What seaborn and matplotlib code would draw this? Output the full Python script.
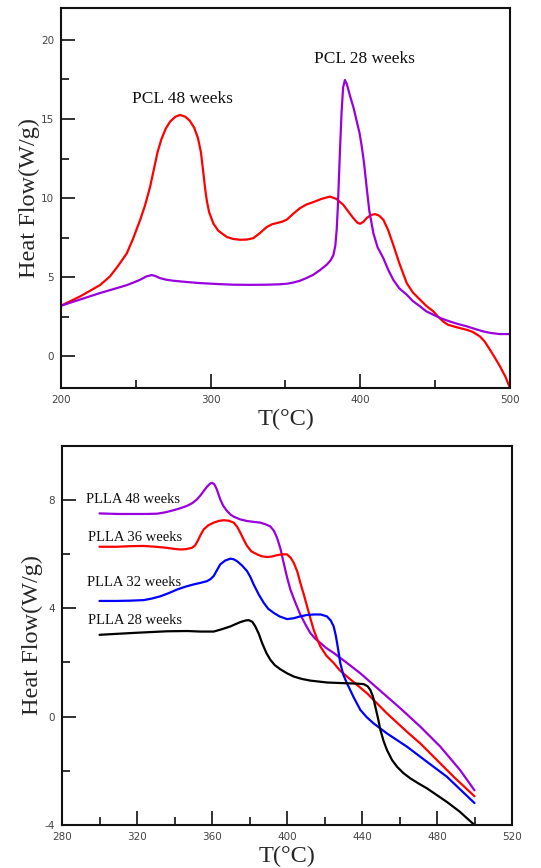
import numpy as np
import pandas as pd
import matplotlib
matplotlib.use("Agg")
import matplotlib.pyplot as plt
from matplotlib.ticker import MultipleLocator, FixedLocator
import seaborn as sns

# ---------------- data: top panel (PCL) ----------------
pcl48_t = [200, 213, 226, 232.7, 238, 243.9, 248, 252.8, 256, 259.5, 262, 264.5, 267, 270, 273, 276.5,
           279.5, 283, 286, 289, 291.5, 293.5, 295, 296.3, 297.5, 299, 301.8, 305, 310.7, 315, 319.6,
           324, 328.5, 333, 337.4, 341, 344, 348, 351, 355, 359.7, 364, 368.6, 374, 379.7, 384,
           388.6, 392, 395.3, 398, 399.8, 402, 404.2, 407, 409.8, 412.5, 415.4, 418.5, 422, 426,
           431, 435, 439.9, 444, 448.8, 452, 455.4, 458.5, 462.1, 466, 471, 475, 479.9, 483, 486.6,
           490, 493.3, 497, 500]
pcl48_v = [3.2, 3.8, 4.5, 5.05, 5.7, 6.5, 7.4, 8.6, 9.5, 10.7, 11.8, 12.9, 13.7, 14.4, 14.85, 15.15,
           15.26, 15.15, 14.9, 14.45, 13.8, 12.9, 11.7, 10.6, 9.8, 9.1, 8.4, 7.95, 7.55, 7.42, 7.37,
           7.38, 7.47, 7.8, 8.17, 8.35, 8.42, 8.52, 8.65, 9.0, 9.37, 9.6, 9.75, 9.95, 10.1, 9.95,
           9.58, 9.15, 8.74, 8.45, 8.38, 8.5, 8.74, 8.93, 8.99, 8.9, 8.63, 8.0, 7.05, 5.9,
           4.63, 4.05, 3.58, 3.2, 2.84, 2.5, 2.2, 2.0, 1.9, 1.8, 1.68, 1.55, 1.26, 0.95, 0.42,
           -0.1, -0.63, -1.3, -2.0]

pcl28_t = [200, 213, 226, 235, 243.9, 248, 252.8, 257, 260.6, 263, 266, 270, 275, 284, 293, 305, 315,
           326, 337.4, 345, 350.8, 355, 359.7, 364, 368.6, 373, 377.5, 380, 382, 383.3, 384.2, 385,
           385.8, 386.6, 387.5, 388.5, 389.7, 391, 393, 395.5, 397.5, 399.5, 400.9, 402.5, 404.2,
           406, 408.7, 411.5, 415.4, 418.5, 422, 426, 431, 435, 439.9, 444, 448.8, 454, 460, 465,
           471, 476, 482, 487, 493, 500]
pcl28_v = [3.2, 3.6, 4.0, 4.25, 4.5, 4.65, 4.84, 5.05, 5.14, 5.08, 4.95, 4.85, 4.78, 4.7, 4.63, 4.57,
           4.53, 4.52, 4.53, 4.55, 4.59, 4.66, 4.78, 4.95, 5.16, 5.45, 5.79, 6.05, 6.4, 7.0, 8.0, 9.5,
           11.5, 13.5, 15.5, 17.0, 17.47, 17.2, 16.5, 15.7, 14.9, 14.1, 13.3, 12.2, 10.7,
           9.2, 7.79, 6.9, 6.2, 5.5, 4.84, 4.3, 3.9, 3.5, 3.16, 2.85, 2.63, 2.4, 2.2, 2.05,
           1.9, 1.75, 1.58, 1.48, 1.41, 1.41]

# ---------------- data: bottom panel (PLLA) ----------------
plla48_t = [300, 310, 318.2, 325, 330.7, 335, 339.6, 343, 346.7, 349.5, 352, 354, 355.6, 357.5, 359,
            360, 361.2, 362.5, 364.4, 366, 368, 370, 371.6, 375, 378.7, 382, 385.8, 388.5, 391.1,
            393, 394.7, 396.5, 398.2, 400, 401.8, 404.5, 407.1, 410, 412.4, 415, 417.8, 421, 424.9,
            432, 439.1, 446.2, 453.3, 460.4, 471.1, 481.8, 492.4, 500]
plla48_v = [7.5, 7.48, 7.48, 7.48, 7.49, 7.54, 7.62, 7.69, 7.78, 7.88, 8.02, 8.18, 8.33, 8.5, 8.6,
            8.63, 8.58, 8.4, 8.02, 7.78, 7.59, 7.45, 7.38, 7.28, 7.22, 7.19, 7.16, 7.1, 7.02,
            6.86, 6.6, 6.2, 5.68, 5.15, 4.69, 4.2, 3.77, 3.38, 3.09, 2.88, 2.72, 2.53, 2.35,
            1.98, 1.6, 1.17, 0.74, 0.31, -0.37, -1.11, -1.98, -2.72]

plla36_t = [300, 309.3, 316, 323.6, 330, 336, 340, 343, 346, 349.3, 351, 352.5, 354, 355.6, 358,
            360.9, 363.5, 366.2, 369, 371.6, 373.5, 375.1, 377, 378.7, 381, 384, 386.5, 389.3, 392,
            394.7, 397.5, 400, 402, 403.6, 405.5, 407.1, 409, 410.7, 412.5, 414.2, 416, 417.8, 421,
            424.9, 428, 432, 442.7, 453.3, 464, 471.1, 478.2, 488.9, 500]
plla36_v = [6.27, 6.27, 6.29, 6.3, 6.27, 6.23, 6.19, 6.17, 6.18, 6.23, 6.32, 6.5, 6.72, 6.91, 7.06,
            7.16, 7.22, 7.25, 7.23, 7.16, 7.0, 6.79, 6.52, 6.3, 6.1, 5.99, 5.92, 5.89, 5.91,
            5.96, 5.99, 5.99, 5.86, 5.68, 5.35, 4.94, 4.5, 4.07, 3.62, 3.21, 2.88, 2.59, 2.25,
            1.98, 1.72, 1.48, 0.86, 0.12, -0.56, -0.99, -1.48, -2.22, -2.94]

plla32_t = [300, 309.3, 316, 323.6, 328, 332.4, 337, 341.3, 346, 350.2, 354, 357.3, 359.3, 360.9,
            362.6, 364.4, 367, 369.8, 371.5, 373.3, 376, 378.7, 380.5, 382.2, 385, 387.6, 390, 392.9,
            396, 400, 403.5, 407.1, 410.5, 414.2, 418, 421.3, 423.3, 424.9, 426, 426.7, 427.6, 428.4,
            430, 432, 435.5, 439.1, 442.5, 446.2, 453.3, 464, 474.7, 485.3, 500]
plla32_v = [4.27, 4.27, 4.28, 4.3, 4.36, 4.44, 4.56, 4.69, 4.8, 4.88, 4.94, 5.0, 5.08, 5.19,
            5.4, 5.62, 5.76, 5.83, 5.81, 5.74, 5.58, 5.37, 5.15, 4.88, 4.5, 4.2, 3.98, 3.83,
            3.7, 3.6, 3.63, 3.7, 3.75, 3.77, 3.77, 3.7, 3.55, 3.33, 3.0, 2.72, 2.35, 1.98,
            1.55, 1.23, 0.72, 0.25, -0.02, -0.25, -0.62, -1.11, -1.67, -2.22, -3.19]

plla28_t = [300, 318.2, 336, 346.7, 353.8, 360.9, 365, 369.8, 375.1, 378, 379.6, 381.5, 383.1, 385,
            386.7, 389, 391.1, 393.5, 396.4, 400, 403.6, 408, 412.4, 421.3, 432, 437, 440.9, 443,
            444.4, 445.8, 447.1, 448.5, 449.8, 451.5, 453.3, 456, 458.7, 462, 465.8, 470, 474.7,
            485.3, 492, 500]
plla28_v = [3.02, 3.09, 3.15, 3.16, 3.14, 3.14, 3.22, 3.33, 3.49, 3.55, 3.56, 3.5, 3.33, 3.05,
            2.72, 2.35, 2.1, 1.9, 1.75, 1.6, 1.48, 1.39, 1.33, 1.26, 1.23, 1.22, 1.2, 1.12,
            0.99, 0.75, 0.37, -0.05, -0.49, -0.9, -1.23, -1.6, -1.85, -2.08, -2.28, -2.46, -2.65,
            -3.15, -3.5, -4.0]

top_labels = ["PCL 48 weeks", "PCL 28 weeks"]
bottom_labels = ["PLLA 48 weeks", "PLLA 36 weeks", "PLLA 32 weeks", "PLLA 28 weeks"]

top_xticks = [200, 300, 400, 500]
top_yticks = [0, 5, 10, 15, 20]
bot_xticks = [280, 320, 360, 400, 440, 480, 520]
bot_yticks = [-4, 0, 4, 8]

# ---------------- styling ----------------
sns.set_style("white")
plt.rcParams["font.family"] = ["DejaVu Sans"]
plt.rcParams["axes.unicode_minus"] = False
plt.rcParams["lines.solid_joinstyle"] = "round"
plt.rcParams["lines.solid_capstyle"] = "round"

PURPLE = "#9a00dd"
RED = "#ff0000"
BLUE = "#0000ff"
BLACK = "#000000"
SERIF = ["Liberation Serif", "DejaVu Serif"]

fig = plt.figure(figsize=(5.41, 8.68), dpi=100)
ax1 = fig.add_axes([61 / 541, 1 - 388 / 868, (510 - 61) / 541, (388 - 8.3) / 868])
ax2 = fig.add_axes([62 / 541, 1 - 825 / 868, (512 - 62) / 541, (825 - 445.7) / 868])

df_top = pd.concat([
    pd.DataFrame({"T": pcl48_t, "v": pcl48_v, "s": top_labels[0]}),
    pd.DataFrame({"T": pcl28_t, "v": pcl28_v, "s": top_labels[1]}),
])
sns.lineplot(data=df_top, x="T", y="v", hue="s", palette=[RED, PURPLE],
             linewidth=1.6, legend=False, ax=ax1, sort=False)

df_bot = pd.concat([
    pd.DataFrame({"T": plla48_t, "v": plla48_v, "s": bottom_labels[0]}),
    pd.DataFrame({"T": plla36_t, "v": plla36_v, "s": bottom_labels[1]}),
    pd.DataFrame({"T": plla32_t, "v": plla32_v, "s": bottom_labels[2]}),
    pd.DataFrame({"T": plla28_t, "v": plla28_v, "s": bottom_labels[3]}),
])
sns.lineplot(data=df_bot, x="T", y="v", hue="s", palette=[PURPLE, RED, BLUE, BLACK],
             linewidth=1.6, legend=False, ax=ax2, sort=False)

# top axes
ax1.set_xlim(200, 500)
ax1.set_ylim(-2, 22)
ax1.xaxis.set_major_locator(FixedLocator(top_xticks))
ax1.xaxis.set_minor_locator(MultipleLocator(50))
ax1.yaxis.set_major_locator(FixedLocator(top_yticks))
ax1.yaxis.set_minor_locator(MultipleLocator(2.5))

# bottom axes
ax2.set_xlim(280, 520)
ax2.set_ylim(-4, 10)
ax2.xaxis.set_major_locator(FixedLocator(bot_xticks))
ax2.xaxis.set_minor_locator(MultipleLocator(20))
ax2.yaxis.set_major_locator(FixedLocator(bot_yticks))
ax2.yaxis.set_minor_locator(MultipleLocator(2))

for ax, ylx in ((ax1, -0.046), (ax2, -0.043)):
    for sp in ax.spines.values():
        sp.set_visible(True)
        sp.set_color("#111111")
        sp.set_linewidth(1.5)
    ax.tick_params(axis="both", which="major", direction="in", length=10, width=1.3,
                   color="#222222", labelsize=7.5, labelcolor="#444444", pad=5,
                   bottom=True, left=True, top=False, right=False)
    ax.tick_params(axis="both", which="minor", direction="in", length=5.5, width=1.3,
                   color="#222222", bottom=True, left=True, top=False, right=False)
    ax.set_xlabel("T(°C)", fontsize=17.5, family=SERIF)
    ax.set_ylabel("Heat Flow(W/g)", fontsize=17.5, family=SERIF)
    ax.xaxis.set_label_coords(0.5, -0.054)
    ax.yaxis.set_label_coords(ylx, 0.5)
    ax.grid(False)

# text annotations
ax1.text(281.3, 16.27, top_labels[0], fontsize=12.5, family=SERIF, ha="center", va="center", color="#111111")
ax1.text(402.7, 18.8, top_labels[1], fontsize=12.5, family=SERIF, ha="center", va="center", color="#111111")

label_pos = [(317.7, 8.02), (318.8, 6.63), (318.2, 4.94), (318.8, 3.56)]
for lab, (tx, ty) in zip(bottom_labels, label_pos):
    ax2.text(tx, ty, lab, fontsize=10.5, family=SERIF, ha="center", va="center", color="#111111")

fig.savefig("out.png", dpi=100)
